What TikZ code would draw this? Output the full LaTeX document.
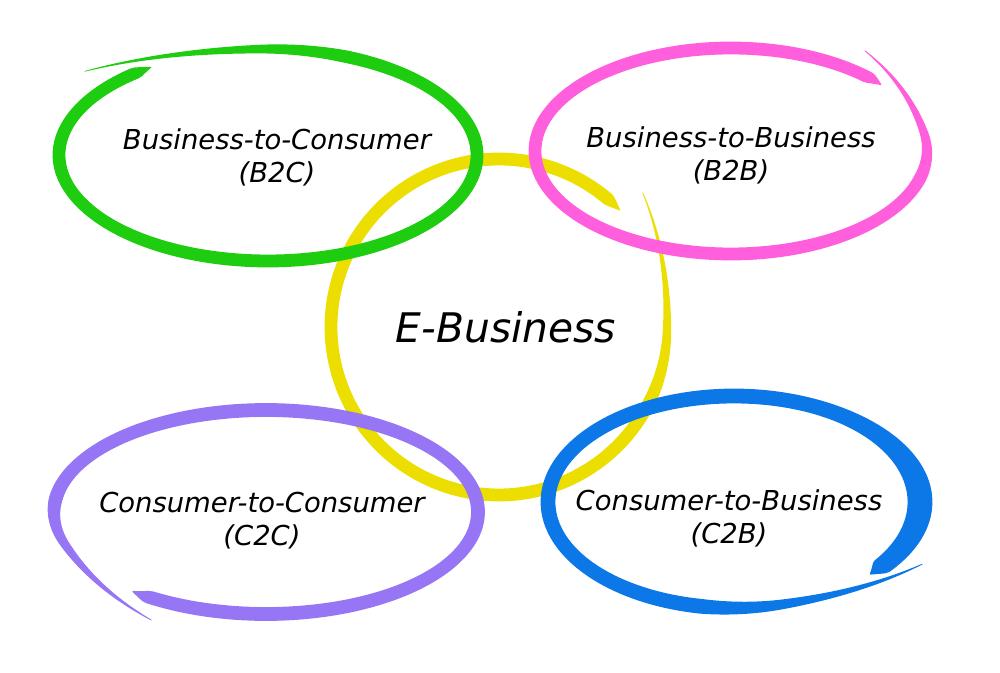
\documentclass[tikz,border=0pt]{standalone}
\usepackage{fontspec}
\setmainfont{DejaVu Sans}
\usepackage{xcolor}
\definecolor{ringgreen}{RGB}{30, 205, 15}
\definecolor{ringpink}{RGB}{255, 95, 220}
\definecolor{ringyellow}{RGB}{235, 222, 0}
\definecolor{ringpurple}{RGB}{150, 118, 245}
\definecolor{ringblue}{RGB}{12, 120, 232}
\tikzset{
  lbl/.style={
    align=center, inner sep=0pt,
    font=\fontsize{19.5}{23.5}\selectfont\itshape, text=black
  },
  tlbl/.style={
    align=center, inner sep=0pt,
    font=\fontsize{29}{34}\selectfont\itshape, text=black
  },
}
% brush ring: colour, cx, cy, rx, ry, start angle, end angle, width, outward growth of the tail
\newcommand\brushring[9]{%
  \def\bw{(#8*min(1,(#7-\ang)/70,(\ang-#6)/5)+0.8)}%
  \def\bs{(1+#9*(max(0,(\ang-#7+45)/45))^2)}%
  \fill[#1] plot[domain=#6:#7, samples=260, variable=\ang]
      ({#2+(#4*\bs+\bw/2)*cos(\ang)},{#3+(#5*\bs+\bw/2)*sin(\ang)})
    -- plot[domain=#7:#6, samples=260, variable=\ang]
      ({#2+(#4*\bs-\bw/2)*cos(\ang)},{#3+(#5*\bs-\bw/2)*sin(\ang)})
    -- cycle;}

\begin{document}
\begin{tikzpicture}[x=0.025cm, y=0.025cm]
    \useasboundingbox (0,0) rectangle (1000,672);

    % rings
    \brushring{ringyellow}{499}{345}{168}{168}{44}{403}{12}{0.17}
    \brushring{ringgreen}{268}{517}{209}{106}{124}{498}{12}{0.18}
    \brushring{ringpink}{731}{521}{196}{103}{40}{415}{12}{0.19}
    \brushring{ringpurple}{266}{160}{212}{102}{231}{603}{13}{0.19}
    \brushring{ringblue}{734}{170}{186}{106}{317}{690}{(14+10*max(0,cos(\ang-360))^4)}{0.17}

    % labels
    \node[lbl]  (b2c)  at (277,515) {Business-to-Consumer\\(B2C)};
    \node[lbl]  (b2b)  at (731,517) {Business-to-Business\\(B2B)};
    \node[tlbl] (ebiz) at (506,345) {E-Business};
    \node[lbl]  (c2c)  at (262,151) {Consumer-to-Consumer\\(C2C)};
    \node[lbl]  (c2b)  at (729,154) {Consumer-to-Business\\(C2B)};
\end{tikzpicture}
\end{document}
